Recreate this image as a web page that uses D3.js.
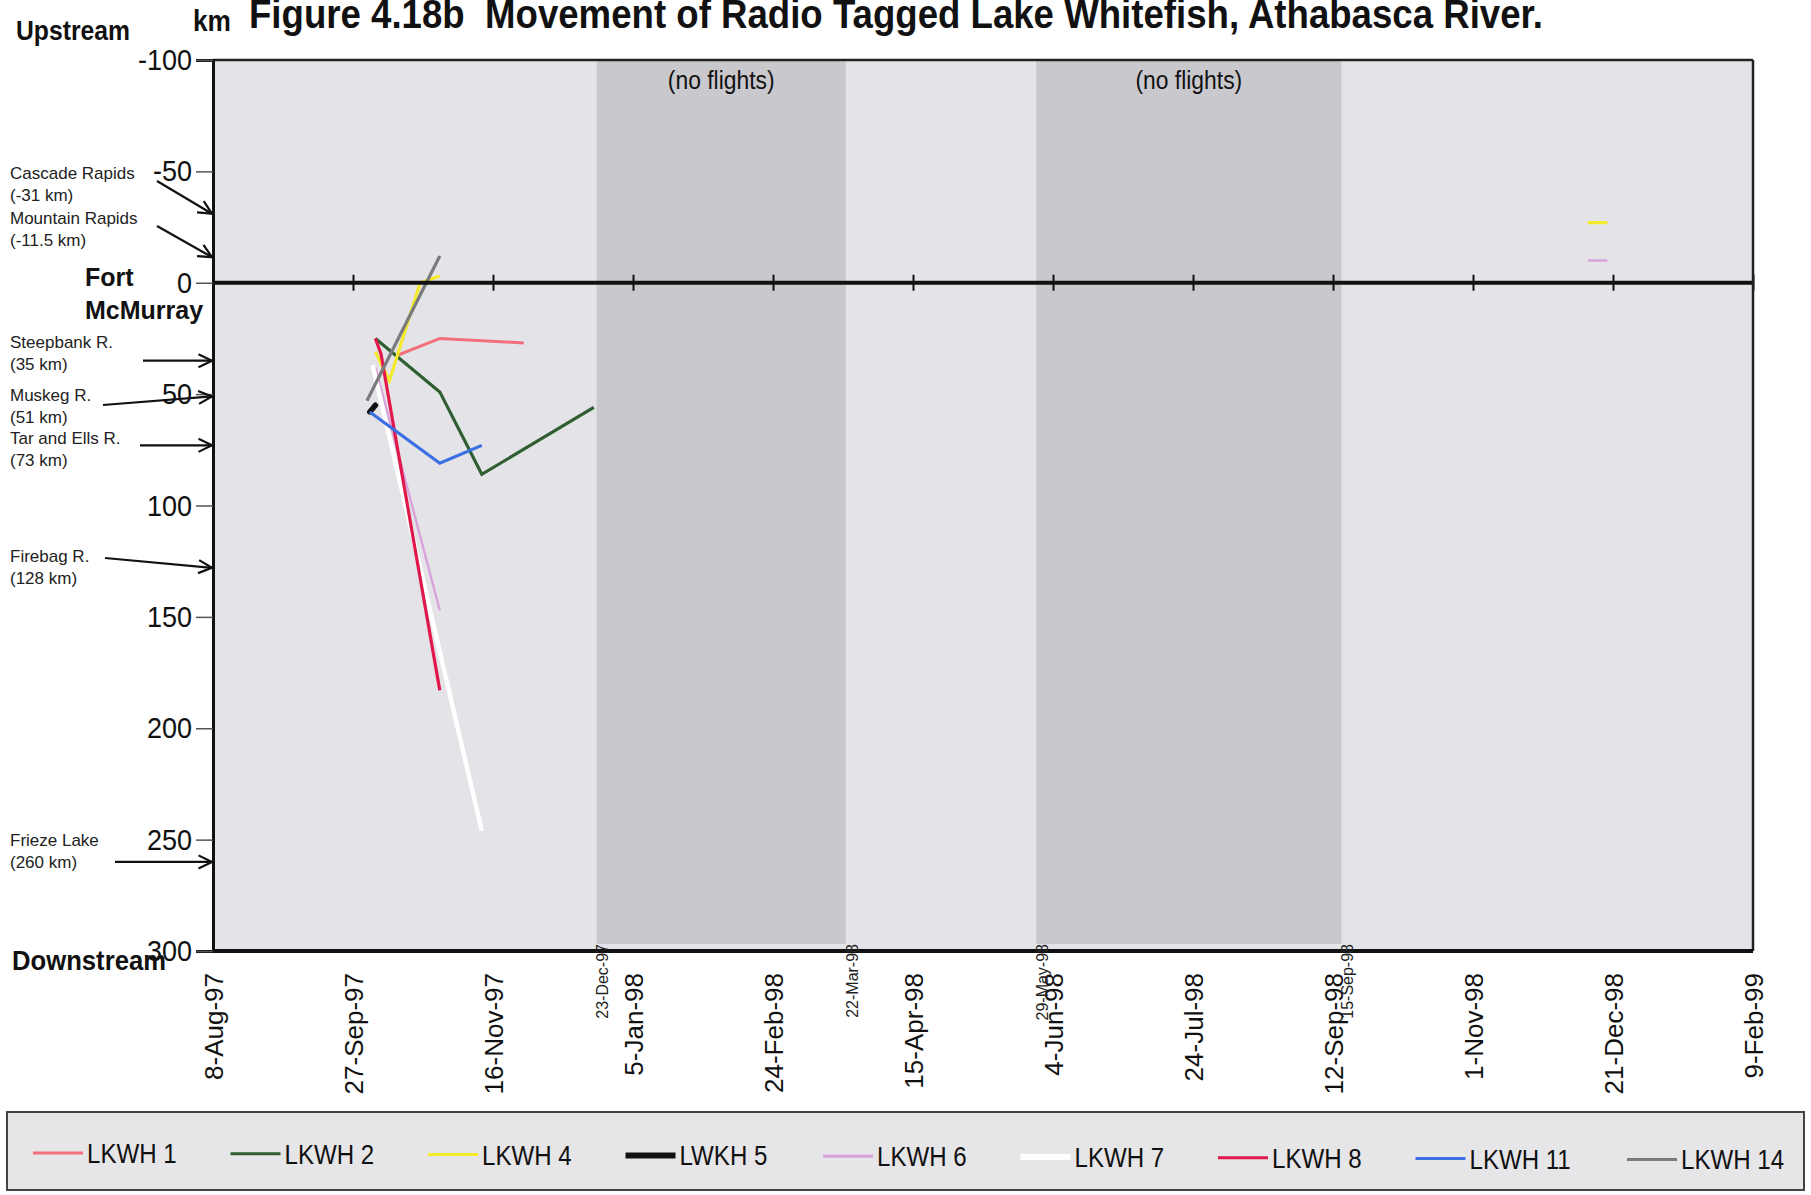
<!DOCTYPE html>
<html>
<head>
<meta charset="utf-8">
<title>Movement of Radio Tagged Lake Whitefish, Athabasca River</title>
<script src="https://cdn.jsdelivr.net/npm/d3@7"></script>
<style>
  html, body { margin: 0; padding: 0; background: #ffffff; }
  svg { display: block; }
</style>
</head>
<body>
<svg id="chart" width="1811" height="1195"></svg>
<script>
// ---- data -------------------------------------------------------------
// distance along the Athabasca River from Fort McMurray (km, negative = upstream)
const lkwh1  = [["1997-10-12", 33], ["1997-10-28", 25], ["1997-11-27", 27]];
const lkwh2  = [["1997-10-05", 25], ["1997-10-28", 49], ["1997-11-12", 86], ["1997-12-22", 56]];
const lkwh4  = [["1997-10-05", 31], ["1997-10-10", 44], ["1997-10-21", 0], ["1997-10-28", -3],
                null, ["1998-12-12", -27], ["1998-12-19", -27]];
const lwkh5  = [["1997-10-03", 58], ["1997-10-05", 55]];
const lkwh6  = [["1997-10-05", 38], ["1997-10-28", 147],
                null, ["1998-12-12", -10], ["1998-12-19", -10]];
const lkwh7  = [["1997-10-04", 37], ["1997-11-12", 246]];
const lkwh8  = [["1997-10-05", 25], ["1997-10-07", 32], ["1997-10-28", 183]];
const lkwh11 = [["1997-10-03", 58], ["1997-10-28", 81], ["1997-11-12", 73]];
const lkwh14 = [["1997-10-02", 53], ["1997-10-28", -12]];

const seriesNames = ["LKWH 1", "LKWH 2", "LKWH 4", "LWKH 5", "LKWH 6", "LKWH 7", "LKWH 8", "LKWH 11", "LKWH 14"];
const seriesValues = [lkwh1, lkwh2, lkwh4, lwkh5, lkwh6, lkwh7, lkwh8, lkwh11, lkwh14];

// periods without survey flights
const noFlightStart = ["1997-12-23", "1998-05-29"];
const noFlightEnd   = ["1998-03-22", "1998-09-15"];

// river landmarks marked on the distance axis
const landmarkNames = ["Cascade Rapids", "Mountain Rapids", "Steepbank R.", "Muskeg R.", "Tar and Ells R.", "Firebag R.", "Frieze Lake"];
const landmarkKm    = [-31, -11.5, 35, 51, 73, 128, 260];
const landmarkNotes = ["(-31 km)", "(-11.5 km)", "(35 km)", "(51 km)", "(73 km)", "(128 km)", "(260 km)"];

const xTickDates = ["1997-08-08", "1997-09-27", "1997-11-16", "1998-01-05", "1998-02-24", "1998-04-15",
                    "1998-06-04", "1998-07-24", "1998-09-12", "1998-11-01", "1998-12-21", "1999-02-09"];
const yTickValues = [-100, -50, 0, 50, 100, 150, 200, 250, 300];

// ---- styles -----------------------------------------------------------
const seriesStyle = {
  "LKWH 1":  { color: "#f2707a", width: 3 },
  "LKWH 2":  { color: "#2f5f30", width: 3.2 },
  "LKWH 4":  { color: "#f3ea2c", width: 3.2 },
  "LWKH 5":  { color: "#111111", width: 5.5 },
  "LKWH 6":  { color: "#d9a2dc", width: 2.4 },
  "LKWH 7":  { color: "#ffffff", width: 4.5 },
  "LKWH 8":  { color: "#e1184c", width: 3.2 },
  "LKWH 11": { color: "#3b6fe4", width: 3.2 },
  "LKWH 14": { color: "#7b7b7e", width: 3.2 }
};
const legendLineWidth = { "LWKH 5": 6, "LKWH 7": 6 };

const SANS = "'Liberation Sans', Arial, Helvetica, sans-serif";

// squeeze a text horizontally to give a condensed face
function condense(sel, factor) {
  sel.each(function () {
    const w = this.getComputedTextLength();
    d3.select(this).attr("textLength", w * factor).attr("lengthAdjust", "spacingAndGlyphs");
  });
}

// ---- layout -----------------------------------------------------------
const plot = { left: 213, right: 1753, top: 60, bottom: 951 };
const svg = d3.select("#chart");
const parse = d3.utcParse("%Y-%m-%d");
const fmt = d3.utcFormat("%-d-%b-%y");

const x = d3.scaleUtc()
  .domain([parse(xTickDates[0]), parse(xTickDates[xTickDates.length - 1])])
  .range([plot.left, plot.right]);
const y = d3.scaleLinear().domain([-100, 300]).range([plot.top, plot.bottom]);

// plot background
svg.append("rect")
  .attr("x", plot.left).attr("y", plot.top)
  .attr("width", plot.right - plot.left).attr("height", plot.bottom - plot.top)
  .attr("fill", "#e4e3e7");

// no-flight bands
const bands = noFlightStart.map((s, i) => ({ start: parse(s), end: parse(noFlightEnd[i]) }));
svg.append("g").selectAll("rect").data(bands).join("rect")
  .attr("x", d => x(d.start)).attr("y", plot.top)
  .attr("width", d => x(d.end) - x(d.start))
  .attr("height", plot.bottom - plot.top - 7)
  .attr("fill", "#c9c8cd");

svg.append("g").selectAll("text").data(bands).join("text")
  .attr("x", d => (x(d.start) + x(d.end)) / 2)
  .attr("y", 89)
  .attr("text-anchor", "middle")
  .attr("font-family", SANS).attr("font-size", 26).attr("fill", "#111")
  .text("(no flights)")
  .call(condense, 0.88);

// series lines
const line = d3.line()
  .defined(d => d !== null)
  .x(d => x(parse(d[0])))
  .y(d => y(d[1]));

const series = seriesNames.map((name, i) => ({ name, values: seriesValues[i] }));
svg.append("g").selectAll("path").data(series).join("path")
  .attr("fill", "none")
  .attr("stroke", d => seriesStyle[d.name].color)
  .attr("stroke-width", d => seriesStyle[d.name].width)
  .attr("stroke-linecap", d => d.name === "LWKH 5" ? "round" : "butt")
  .attr("stroke-linejoin", "miter")
  .attr("d", d => line(d.values));

// zero line (Fort McMurray) with date ticks crossing it
const zeroAxis = svg.append("g")
  .attr("transform", `translate(0,${y(0)})`)
  .call(d3.axisBottom(x).tickValues(xTickDates.map(parse)).tickSize(16).tickFormat(""));
zeroAxis.select(".domain").remove();
zeroAxis.selectAll(".tick line")
  .attr("y1", -8).attr("y2", 8)
  .attr("stroke", "#111").attr("stroke-width", 2);
svg.append("line")
  .attr("x1", plot.left).attr("x2", plot.right)
  .attr("y1", y(0)).attr("y2", y(0))
  .attr("stroke", "#111").attr("stroke-width", 4);

// plot frame
svg.append("line").attr("x1", plot.left).attr("x2", plot.right).attr("y1", plot.top).attr("y2", plot.top)
  .attr("stroke", "#222").attr("stroke-width", 2.5);
svg.append("line").attr("x1", plot.right).attr("x2", plot.right).attr("y1", plot.top).attr("y2", plot.bottom)
  .attr("stroke", "#222").attr("stroke-width", 2.5);

// bottom date labels
const xAxis = svg.append("g")
  .attr("transform", `translate(0,${plot.bottom})`)
  .call(d3.axisBottom(x).tickValues(xTickDates.map(parse)).tickSize(0).tickFormat(fmt));
xAxis.select(".domain").remove();
xAxis.selectAll(".tick text")
  .attr("font-family", SANS).attr("font-size", 26).attr("fill", "#111")
  .attr("text-anchor", "end")
  .attr("transform", "rotate(-90)")
  .attr("x", -22).attr("y", 0).attr("dy", "0.36em");
svg.append("line").attr("x1", plot.left).attr("x2", plot.right).attr("y1", plot.bottom).attr("y2", plot.bottom)
  .attr("stroke", "#111").attr("stroke-width", 4);

// band edge date labels
const edgeLabels = [];
bands.forEach(b => { edgeLabels.push(b.start, b.end); });
svg.append("g").selectAll("text").data(edgeLabels).join("text")
  .attr("transform", d => `translate(${x(d) + 6},${plot.bottom - 7}) rotate(-90)`)
  .attr("text-anchor", "end").attr("dy", "0.36em")
  .attr("font-family", SANS).attr("font-size", 16).attr("fill", "#222")
  .text(d => fmt(d));

// distance axis
const yAxis = svg.append("g")
  .attr("transform", `translate(${plot.left},0)`)
  .call(d3.axisLeft(y).tickValues(yTickValues).tickSize(17).tickPadding(4).tickFormat(d => String(d)));
yAxis.select(".domain").attr("stroke", "#111").attr("stroke-width", 3);
yAxis.selectAll(".tick line").attr("stroke", "#555").attr("stroke-width", 1.5);
yAxis.selectAll(".tick text")
  .attr("font-family", SANS).attr("font-size", 30).attr("fill", "#111")
  .call(condense, 0.9);

// landmark annotations with arrows
const arrowStarts = [[157, 181], [157, 226], [143, null], [103, 405], [140, null], [105, 558], [115, null]];
const arrowG = svg.append("g").attr("stroke", "#111").attr("stroke-width", 2.2).attr("fill", "none");
landmarkKm.forEach((km, i) => {
  const tx = plot.left - 1, ty = y(km);
  const sx = arrowStarts[i][0], sy = arrowStarts[i][1] === null ? ty : arrowStarts[i][1];
  arrowG.append("line").attr("x1", sx).attr("y1", sy).attr("x2", tx).attr("y2", ty);
  const ang = Math.atan2(ty - sy, tx - sx), len = 15, spread = 0.45;
  arrowG.append("path").attr("d",
    `M${tx - len * Math.cos(ang - spread)},${ty - len * Math.sin(ang - spread)}L${tx},${ty}` +
    `L${tx - len * Math.cos(ang + spread)},${ty - len * Math.sin(ang + spread)}`);
});
const labelTops = [173, 218, 342, 395, 438, 556, 840];
landmarkNames.forEach((name, i) => {
  svg.append("text").attr("x", 10).attr("y", labelTops[i] + 6)
    .attr("font-family", SANS).attr("font-size", 17).attr("fill", "#222").text(name);
  svg.append("text").attr("x", 10).attr("y", labelTops[i] + 28)
    .attr("font-family", SANS).attr("font-size", 17).attr("fill", "#222").text(landmarkNotes[i]);
});

// heading and axis captions
svg.append("text").attr("x", 249).attr("y", 28)
  .style("white-space", "pre")
  .attr("font-family", SANS).attr("font-weight", "bold").attr("font-size", 40).attr("fill", "#111")
  .attr("textLength", 1294).attr("lengthAdjust", "spacingAndGlyphs")
  .text("Figure 4.18b  Movement of Radio Tagged Lake Whitefish, Athabasca River.");
svg.append("text").attr("x", 193).attr("y", 31)
  .attr("font-family", SANS).attr("font-weight", "bold").attr("font-size", 30).attr("fill", "#111")
  .attr("textLength", 38).attr("lengthAdjust", "spacingAndGlyphs").text("km");
svg.append("text").attr("x", 16).attr("y", 40)
  .attr("font-family", SANS).attr("font-weight", "bold").attr("font-size", 27).attr("fill", "#111")
  .attr("textLength", 114).attr("lengthAdjust", "spacingAndGlyphs").text("Upstream");
svg.append("text").attr("x", 12).attr("y", 970)
  .attr("font-family", SANS).attr("font-weight", "bold").attr("font-size", 28).attr("fill", "#111")
  .attr("textLength", 154).attr("lengthAdjust", "spacingAndGlyphs").text("Downstream");
svg.append("text").attr("x", 85).attr("y", 286)
  .attr("font-family", SANS).attr("font-weight", "bold").attr("font-size", 25).attr("fill", "#111").text("Fort");
svg.append("text").attr("x", 85).attr("y", 319)
  .attr("font-family", SANS).attr("font-weight", "bold").attr("font-size", 25).attr("fill", "#111").text("McMurray");

// legend
svg.append("rect")
  .attr("x", 7).attr("y", 1112).attr("width", 1797).attr("height", 78)
  .attr("fill", "#e6e5e8").attr("stroke", "#444").attr("stroke-width", 2);
const legend = svg.append("g").selectAll("g").data(seriesNames).join("g")
  .attr("transform", (d, i) => `translate(${33 + i * 197.5 + (i === 8 ? 14 : 0)},${1153 + i * 0.8})`);
legend.append("line")
  .attr("x1", 0).attr("x2", 50).attr("y1", 0).attr("y2", 0)
  .attr("stroke", d => seriesStyle[d].color)
  .attr("stroke-width", d => legendLineWidth[d] || 3);
legend.append("text")
  .attr("x", 54).attr("y", 10)
  .attr("font-family", SANS).attr("font-size", 28).attr("fill", "#111")
  .text(d => d)
  .call(condense, 0.86);
</script>
</body>
</html>
